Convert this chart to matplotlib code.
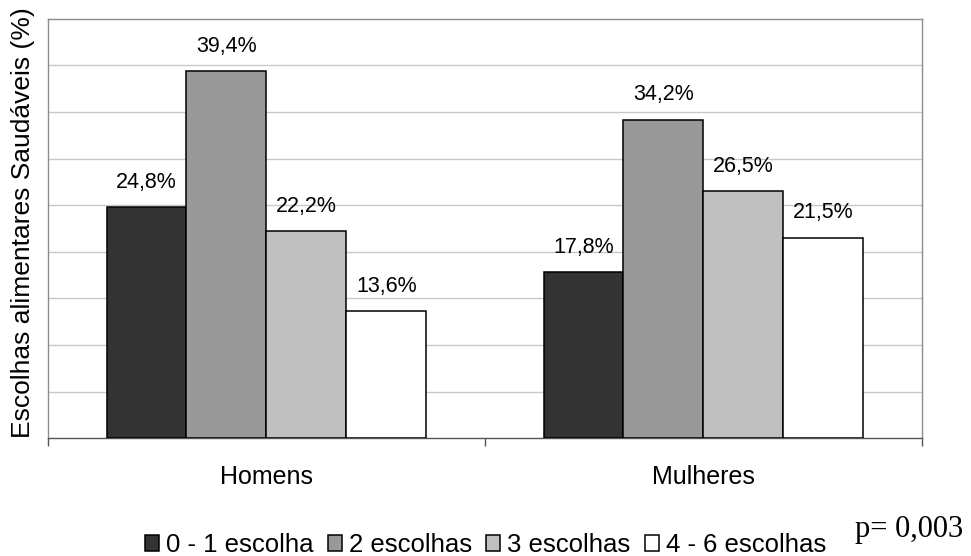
import matplotlib

matplotlib.use("Agg")
import matplotlib.pyplot as plt
import numpy as np

plt.rcParams["font.family"] = ["Liberation Sans", "DejaVu Sans"]

groups = ["Homens", "Mulheres"]
series = ["0 - 1 escolha", "2 escolhas", "3 escolhas", "4 - 6 escolhas"]
homens = [24.8, 39.4, 22.2, 13.6]
mulheres = [17.8, 34.2, 26.5, 21.5]
fills = ["#333333", "#999999", "#c0c0c0", "#ffffff"]

values = np.array([homens, mulheres])  # rows = groups, cols = series
x = np.arange(len(groups))
width = 0.183

fig = plt.figure(figsize=(9.71, 5.56), dpi=100)
ax = fig.add_axes([0.0494, 0.212, 0.9001, 0.754])

for j, name in enumerate(series):
    pos = x + (j - 1.5) * width
    bars = ax.bar(pos, values[:, j], width, color=fills[j], edgecolor="black",
                  linewidth=1.1, label=name, zorder=3)
    for b, v in zip(bars, values[:, j]):
        ax.annotate(f"{v:.1f}%".replace(".", ","),
                    (b.get_x() + b.get_width() / 2, v),
                    xytext=(0, 14), textcoords="offset points",
                    ha="center", va="baseline", fontsize=15.5)

ax.set_xlim(-0.5, 1.5)
ax.set_ylim(0, 45)
ax.set_yticks(np.arange(5, 45, 5))
ax.yaxis.grid(True, color="#c8c8c8", linewidth=1.0)
ax.tick_params(axis="y", left=False, labelleft=False)

# category boundaries carry the ticks, group names sit between them
ax.set_xticks([-0.5, 0.5, 1.5])
ax.set_xticklabels([])
ax.tick_params(axis="x", which="major", direction="out", length=6,
               width=1, color="#555555")
ax.set_xticks(x, minor=True)
ax.set_xticklabels(groups, minor=True, fontsize=18)
ax.tick_params(axis="x", which="minor", length=0, pad=19)

for s in ("left", "top", "right"):
    ax.spines[s].set_color("#8c8c8c")
    ax.spines[s].set_linewidth(1.0)
ax.spines["bottom"].set_color("#555555")
ax.spines["bottom"].set_linewidth(1.0)

ax.set_ylabel("Escolhas alimentares Saudáveis (%)", fontsize=19, labelpad=9, y=0.515)

fig.legend(loc="center", bbox_to_anchor=(0.5, 0.02), ncol=4, frameon=False,
           fontsize=18.5, handlelength=0.55, handleheight=0.55,
           handletextpad=0.28, columnspacing=0.55, borderpad=0)

fig.text(0.8805, 0.034, "p= 0,003", family=["Liberation Serif", "DejaVu Serif"],
         fontsize=22, ha="left", va="baseline")

fig.savefig("out.png", dpi=100, facecolor="white")
